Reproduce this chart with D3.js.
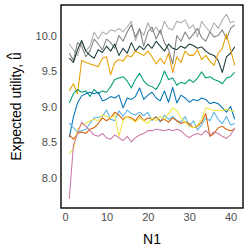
<!DOCTYPE html>
<html>
<head>
<meta charset="utf-8">
<script src="https://cdn.jsdelivr.net/npm/d3@7"></script>
<style>
  body { margin: 0; background: #fff; }
  text { font-family: "Liberation Sans", Arial, sans-serif; }
</style>
</head>
<body>
<div id="chart"></div>
<script>
// N1 values shared by every series
const n1 = d3.range(1, 42);

const lightGray = [9.88, 9.80, 9.72, 9.90, 9.78, 9.85, 10.05, 9.95, 10.05, 10.02, 10.08, 10.06, 10.10, 10.05, 10.12, 10.20, 9.93, 10.08, 10.00, 10.18, 10.05, 10.12, 10.02, 10.20, 10.10, 10.08, 10.20, 10.18, 10.22, 10.10, 10.15, 9.98, 10.20, 10.12, 10.05, 10.18, 10.10, 10.22, 10.30, 10.18, 10.20];
const midGray = [9.75, 9.65, 9.90, 9.85, 9.70, 9.78, 9.95, 9.88, 9.80, 9.95, 9.90, 9.82, 10.00, 9.92, 10.05, 10.15, 9.98, 10.10, 9.85, 10.05, 10.12, 9.95, 10.08, 9.90, 9.80, 9.60, 10.00, 9.92, 10.05, 9.95, 10.02, 10.10, 9.97, 9.92, 10.05, 9.98, 10.00, 10.08, 9.95, 10.10, 10.15];
const darkLine = [9.68, 9.62, 9.80, 9.93, 9.78, 9.72, 9.68, 9.80, 9.76, 9.85, 9.78, 9.88, 9.72, 9.82, 9.75, 9.90, 9.78, 9.85, 9.80, 9.88, 9.82, 9.92, 9.85, 9.78, 9.88, 9.82, 9.80, 9.85, 9.82, 9.88, 9.86, 9.82, 9.84, 9.78, 9.74, 9.72, 9.65, 9.48, 9.70, 9.75, 9.84];
const orange = [9.22, 9.32, 9.18, 9.65, 9.62, 9.60, 9.58, 9.56, 9.68, 9.70, 9.45, 9.62, 9.66, 9.64, 9.72, 9.70, 9.78, 9.75, 9.72, 9.78, 9.70, 9.60, 9.68, 9.60, 9.75, 9.48, 9.70, 9.62, 9.78, 9.72, 9.72, 9.80, 9.66, 9.72, 9.64, 9.58, 9.75, 9.82, 10.02, 9.80, 9.58];
const green = [9.05, 9.18, 9.24, 9.20, 9.22, 9.14, 9.24, 9.18, 9.22, 9.20, 9.28, 9.38, 9.40, 9.42, 9.36, 9.26, 9.38, 9.47, 9.36, 9.30, 9.28, 9.24, 9.34, 9.50, 9.38, 9.40, 9.30, 9.34, 9.32, 9.38, 9.34, 9.40, 9.49, 9.40, 9.42, 9.38, 9.36, 9.32, 9.40, 9.42, 9.48];
const blue = [8.57, 8.85, 9.05, 9.15, 9.18, 9.20, 9.18, 9.20, 9.08, 9.10, 9.14, 9.12, 9.16, 8.98, 9.12, 9.10, 9.14, 9.26, 9.10, 9.16, 9.20, 9.12, 9.08, 9.22, 9.06, 9.27, 9.05, 9.16, 9.12, 9.06, 9.10, 9.08, 9.12, 9.10, 9.04, 9.06, 9.04, 8.98, 8.92, 9.00, 8.82];
const skyBlue = [8.77, 8.70, 8.64, 8.66, 8.68, 8.76, 8.84, 8.85, 8.86, 8.95, 8.82, 8.80, 8.94, 8.86, 8.95, 8.90, 8.88, 8.92, 8.87, 8.92, 8.80, 8.86, 8.78, 8.88, 8.82, 8.86, 8.80, 8.78, 8.86, 8.72, 8.80, 8.67, 8.74, 8.84, 8.80, 8.92, 8.82, 8.76, 8.86, 8.74, 8.76];
const vermillion = [8.60, 8.54, 8.62, 8.64, 8.62, 8.68, 8.70, 8.76, 8.84, 8.80, 8.84, 8.92, 8.88, 8.82, 8.86, 8.84, 8.80, 8.88, 8.80, 8.84, 8.82, 8.85, 8.80, 8.82, 8.78, 8.84, 8.80, 8.76, 8.78, 8.76, 8.70, 8.72, 8.78, 8.90, 8.58, 8.62, 8.70, 8.72, 8.68, 8.66, 8.68];
const yellow = [8.34, 8.40, 8.68, 8.74, 8.76, 8.80, 8.82, 8.80, 8.88, 8.86, 8.84, 8.88, 8.58, 8.80, 8.86, 8.82, 8.78, 8.84, 8.80, 8.76, 8.84, 8.80, 8.86, 8.82, 8.90, 8.98, 8.94, 8.84, 8.78, 8.72, 8.70, 8.74, 8.82, 8.98, 8.96, 8.94, 8.95, 8.94, 8.96, 8.94, 8.93];
const pink = [7.70, 8.45, 8.62, 8.78, 8.72, 8.66, 8.60, 8.58, 8.62, 8.56, 8.54, 8.60, 8.56, 8.52, 8.58, 8.50, 8.56, 8.60, 8.62, 8.66, 8.66, 8.68, 8.67, 8.66, 8.68, 8.66, 8.68, 8.66, 8.60, 8.56, 8.60, 8.62, 8.60, 8.66, 8.60, 8.64, 8.62, 8.58, 8.55, 8.60, 8.70];

const seriesList = [lightGray, midGray, darkLine, orange, green, blue, skyBlue, vermillion, yellow, pink];
const seriesColors = ['#ababab', '#808080', '#1b3a3a', '#e69f00', '#009e73', '#0072b2', '#56b4e9', '#d55e00', '#f0e442', '#cc79a7'];

const xTicks = [0, 10, 20, 30, 40];
const yTicks = [8.0, 8.5, 9.0, 9.5, 10.0];

const width = 249;
const height = 249;
const margin = { top: 5, right: 6, bottom: 41, left: 61 };

const svg = d3.select('#chart')
  .append('svg')
  .attr('width', width)
  .attr('height', height);

const x = d3.scaleLinear()
  .domain([-1, 43])
  .range([margin.left, width - margin.right]);

const y = d3.scaleLinear()
  .domain([7.57, 10.43])
  .range([height - margin.bottom, margin.top]);

const line = d3.line()
  .x((_d, i) => x(n1[i]))
  .y((d) => y(d));

svg.append('g')
  .selectAll('path')
  .data(seriesList)
  .enter()
  .append('path')
  .attr('d', line)
  .attr('fill', 'none')
  .attr('stroke', (_d, i) => seriesColors[i])
  .attr('stroke-width', 1.05)
  .attr('stroke-linejoin', 'round');

// panel border
svg.append('rect')
  .attr('x', margin.left)
  .attr('y', margin.top)
  .attr('width', width - margin.left - margin.right)
  .attr('height', height - margin.top - margin.bottom)
  .attr('fill', 'none')
  .attr('stroke', '#000')
  .attr('stroke-width', 1.4);

const xAxis = svg.append('g')
  .attr('transform', `translate(0,${height - margin.bottom})`)
  .call(d3.axisBottom(x).tickValues(xTicks).tickSize(0).tickPadding(5).tickFormat(d3.format('d')));

const yAxis = svg.append('g')
  .attr('transform', `translate(${margin.left},0)`)
  .call(d3.axisLeft(y).tickValues(yTicks).tickSize(0).tickPadding(4).tickFormat(d3.format('.1f')));

[xAxis, yAxis].forEach((g) => {
  g.select('.domain').remove();
  g.selectAll('text')
    .attr('fill', '#4d4d4d')
    .attr('font-size', '11px')
    .style('font-family', '"Liberation Sans", Arial, sans-serif');
});

svg.append('text')
  .attr('x', (margin.left + width - margin.right) / 2)
  .attr('y', 244)
  .attr('text-anchor', 'middle')
  .attr('font-size', '14px')
  .attr('fill', '#000')
  .text('N1');

// y title with a separate hat above the u
const yTitle = svg.append('text')
  .attr('transform', `translate(21,${(margin.top + height - margin.bottom) / 2}) rotate(-90)`)
  .attr('text-anchor', 'middle')
  .attr('font-size', '14px')
  .attr('fill', '#000');
yTitle.append('tspan').text('Expected utility, u');
yTitle.append('tspan')
  .attr('dx', '-0.52em')
  .attr('dy', '-0.28em')
  .text('^');
</script>
</body>
</html>
